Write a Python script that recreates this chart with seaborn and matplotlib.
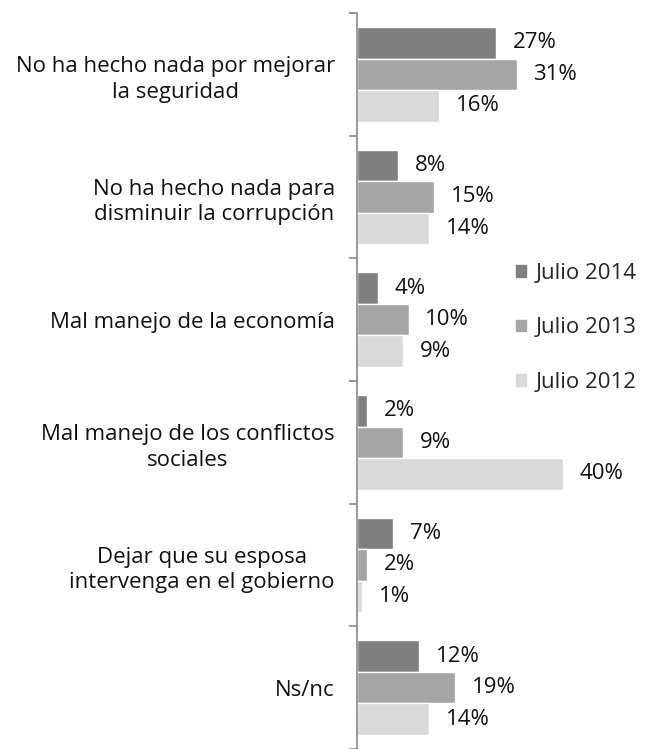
import matplotlib
matplotlib.use("Agg")
import matplotlib.pyplot as plt
import seaborn as sns
import pandas as pd
import numpy as np

categories = [
    "No ha hecho nada por mejorar\nla seguridad",
    "No ha hecho nada para\ndisminuir la corrupción",
    "Mal manejo de la economía",
    "Mal manejo de los conflictos\nsociales",
    "Dejar que su esposa\nintervenga en el gobierno",
    "Ns/nc",
]
series = ["Julio 2014", "Julio 2013", "Julio 2012"]
jul2014 = [27, 8, 4, 2, 7, 12]
jul2013 = [31, 15, 10, 9, 2, 19]
jul2012 = [16, 14, 9, 40, 1, 14]
colors = ["#7f7f7f", "#a5a5a5", "#d9d9d9"]

rows = []
for s, vals in zip(series, [jul2014, jul2013, jul2012]):
    for c, v in zip(categories, vals):
        rows.append({"cat": c, "serie": s, "val": v})
df = pd.DataFrame(rows)

sns.set_theme(style="white")
plt.rcParams["font.family"] = ["Open Sans", "DejaVu Sans"]
FS = 16

fig = plt.figure(figsize=(6.46, 7.49), dpi=100)
ax = fig.add_axes([357/646, 0.0, 1 - 357/646, 1 - 13/749])

sns.barplot(data=df, y="cat", x="val", hue="serie", order=categories,
            hue_order=series, palette=colors, orient="h", width=0.77,
            edgecolor="white", linewidth=1, ax=ax, legend=True)

for cont in ax.containers:
    for bar in cont:
        w = bar.get_width()
        y = bar.get_y() + bar.get_height() / 2
        ax.annotate(f"{int(w)}%", xy=(w, y), xytext=(12, 0),
                    textcoords="offset points", va="center", ha="left",
                    fontsize=FS, color="#111111")

ax.set_xlim(0, 56.1)
ax.set_ylim(5.5, -0.5)
ax.set_xlabel("")
ax.set_ylabel("")
ax.set_xticks([])
for s in ["top", "right", "bottom"]:
    ax.spines[s].set_visible(False)
ax.spines["left"].set_color("#888888")
ax.spines["left"].set_linewidth(1.2)

ax.set_yticks(range(len(categories)))
ax.set_yticklabels(categories, fontsize=FS, color="#111111",
                   multialignment="center", linespacing=1.3)
ax.tick_params(axis="y", which="major", length=0, pad=16)
ax.set_yticks(np.arange(-0.5, 6.0, 1.0), minor=True)
ax.tick_params(axis="y", which="minor", length=6, width=1.2, color="#888888", direction="out", left=True)

ax.legend_.remove()
handles = [plt.Rectangle((0, 0), 1, 1, color=c) for c in colors]
fig.legend(handles, series, loc="upper left", bbox_to_anchor=(505/646, 1 - 252/749),
           frameon=False, fontsize=FS, handlelength=0.45, handleheight=0.45,
           handletextpad=0.45, labelspacing=1.5, borderpad=0)

fig.savefig("out.png", dpi=100)
